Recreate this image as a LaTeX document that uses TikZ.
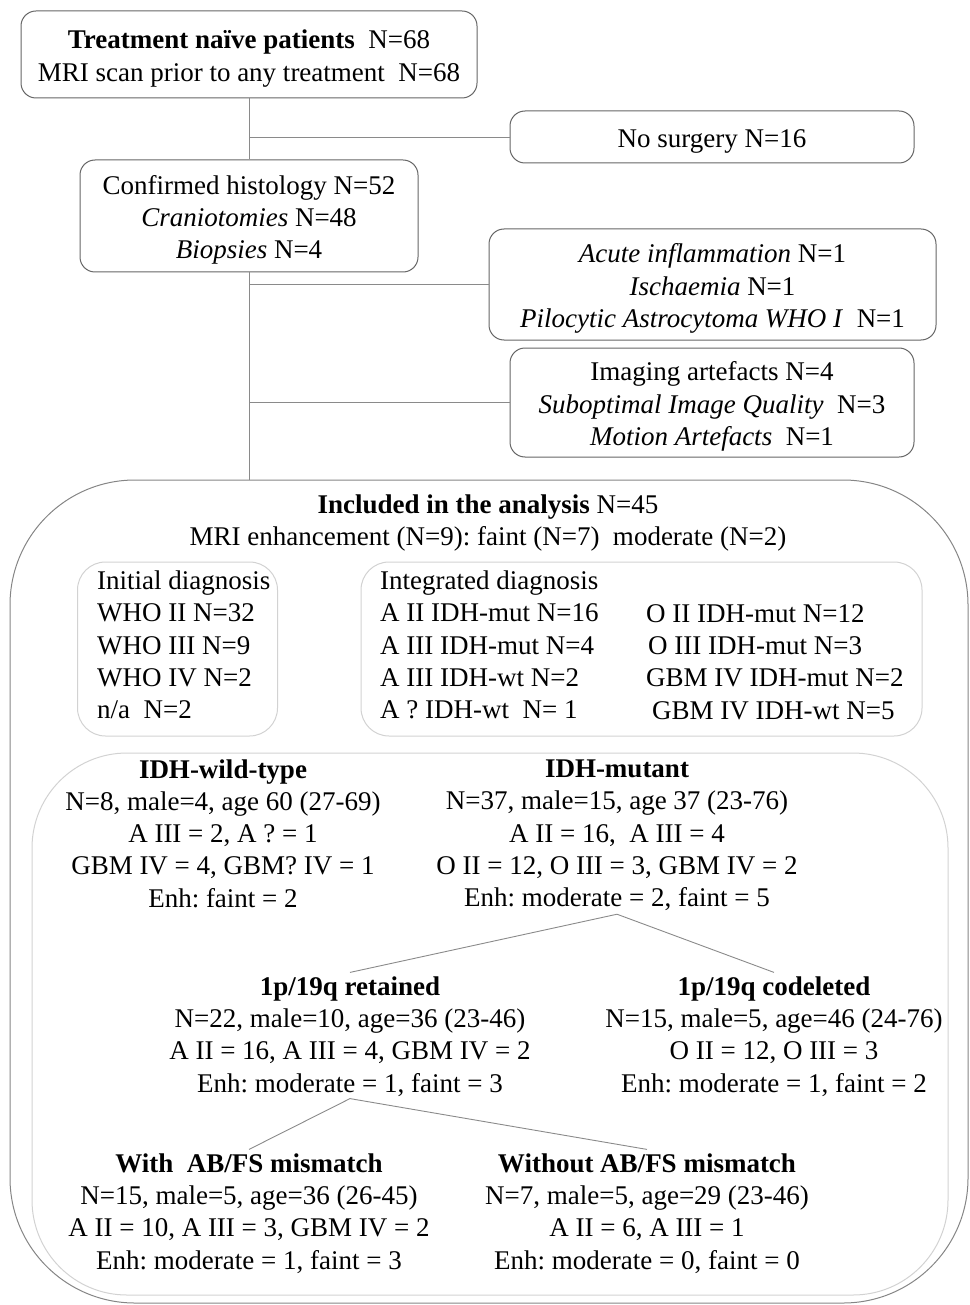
\documentclass[tikz,border=0pt]{standalone}
\usepackage{fontspec}
\setmainfont{Liberation Serif}
\usetikzlibrary{positioning}
\definecolor{boxline}{HTML}{666666}
\definecolor{bigline}{HTML}{858585}
\definecolor{softline}{HTML}{D2D2D2}
\definecolor{linkline}{HTML}{8A8A8A}
\frenchspacing
\begin{document}
\begin{tikzpicture}[x=1pt,y=-1pt,
    every node/.style={font=\fontsize{27}{32.3}\selectfont, inner sep=0pt},
    stagebox/.style={draw=boxline, line width=1pt, rounded corners=15pt},
    stagetext/.style={align=center, yshift=-4pt},
    groupbox/.style={draw=softline, line width=1pt, rounded corners=#1},
    link/.style={draw=linkline, line width=0.9pt}]

    \useasboundingbox (0,0) rectangle (969,1305);

    % screening steps
    \node[stagebox, minimum width=456, minimum height=87] (naive) at (249,54.5) {};
    \node[stagetext] (naivetext) at (naive.center)
        {\textbf{Treatment naïve patients}\enspace N=68\\MRI scan prior to any treatment\enspace N=68};
    \node[stagebox, minimum width=404, minimum height=52] (nosurg) at (712,137) {};
    \node[stagetext] (nosurgtext) at (nosurg.center) {No surgery N=16};
    \node[stagebox, minimum width=338, minimum height=112] (histo) at (249,216) {};
    \node[stagetext] (histotext) at (histo.center)
        {Confirmed histology N=52\\\textit{Craniotomies} N=48\\\textit{Biopsies} N=4};
    \node[stagebox, minimum width=447, minimum height=111] (other) at (712.5,284.5) {};
    \node[stagetext] (othertext) at (other.center)
        {\textit{Acute inflammation} N=1\\\textit{Ischaemia} N=1\\\textit{Pilocytic Astrocytoma WHO I}\enspace N=1};
    \node[stagebox, minimum width=404, minimum height=109] (artef) at (712,402.5) {};
    \node[stagetext] (arteftext) at (artef.center)
        {Imaging artefacts N=4\\\textit{Suboptimal Image Quality}\enspace N=3\\\textit{Motion Artefacts}\enspace N=1};

    % included patients
    \node[draw=bigline, line width=1pt, rounded corners=125pt, minimum width=958, minimum height=823] (incl) at (489,891.5) {};
    \node[align=center] (incltitle) at (488,523)
        {\textbf{Included in the analysis} N=45\\MRI enhancement (N=9): faint (N=7)\enspace moderate (N=2)};

    \node[groupbox=28pt, minimum width=200, minimum height=174] (initbox) at (177.5,649) {};
    \node[align=left, anchor=west] (init) at (97,645)
        {Initial diagnosis\\WHO II N=32\\WHO III N=9\\WHO IV N=2\\n/a\enspace N=2};
    \node[groupbox=28pt, minimum width=561, minimum height=174] (integbox) at (641.5,649) {};
    \node[align=left, anchor=west] (intega) at (380,645)
        {Integrated diagnosis\\A II IDH-mut N=16\\A III IDH-mut N=4\\A III IDH-wt N=2\\A ? IDH-wt\enspace N= 1};
    \node[align=left, anchor=west] (integb) at (646,662)
        {O II IDH-mut N=12\\\hspace{2pt}O III IDH-mut N=3\\GBM IV IDH-mut N=2\\\hspace{6pt}GBM IV IDH-wt N=5};

    % molecular subgroups
    \node[groupbox=95pt, minimum width=916, minimum height=542] (idhbox) at (490,1024) {};
    \node[align=center] (wild) at (223,833.5)
        {\textbf{IDH-wild-type}\\N=8, male=4, age 60 (27-69)\\A III = 2, A ? = 1\\GBM IV = 4, GBM? IV = 1\\Enh: faint = 2};
    \node[align=center] (mut) at (617,835.5)
        {\textbf{IDH-mutant}\\N=37, male=15, age 37 (23-76)\\A II = 16,\enspace A III = 4\\O II = 12, O III = 3, GBM IV = 2\\Enh: moderate = 2, faint = 5};
    \node[align=center] (ret) at (350,1036.5)
        {\textbf{1p/19q retained}\\N=22, male=10, age=36 (23-46)\\A II = 16, A III = 4, GBM IV = 2\\Enh: moderate = 1, faint = 3};
    \node[align=center] (codel) at (774,1036.5)
        {\textbf{1p/19q codeleted}\\N=15, male=5, age=46 (24-76)\\O II = 12, O III = 3\\Enh: moderate = 1, faint = 2};
    \node[align=center] (withmm) at (249,1213.5)
        {\textbf{With\enspace AB/FS mismatch}\\N=15, male=5, age=36 (26-45)\\A II = 10, A III = 3, GBM IV = 2\\Enh: moderate = 1, faint = 3};
    \node[align=center] (withoutmm) at (647,1213.5)
        {\textbf{Without AB/FS mismatch}\\N=7, male=5, age=29 (23-46)\\A II = 6, A III = 1\\Enh: moderate = 0, faint = 0};

    % connectors
    \draw[link] (naive.south) -- (histo.north);
    \draw[link] (histo.south) -- (histo.south |- incl.north);
    \draw[link] (nosurg.west -| naive.south) -- (nosurg.west);
    \draw[link] (other.west -| naive.south) -- (other.west);
    \draw[link] (artef.west -| naive.south) -- (artef.west);
    \draw[link] ([yshift=-3pt]mut.south) -- ([yshift=4pt]ret.north);
    \draw[link] ([yshift=-3pt]mut.south) -- ([yshift=4pt]codel.north);
    \draw[link] ([yshift=-2pt]ret.south) -- ([yshift=4pt]withmm.north);
    \draw[link] ([yshift=-2pt]ret.south) -- ([yshift=4pt]withoutmm.north);
\end{tikzpicture}
\end{document}
